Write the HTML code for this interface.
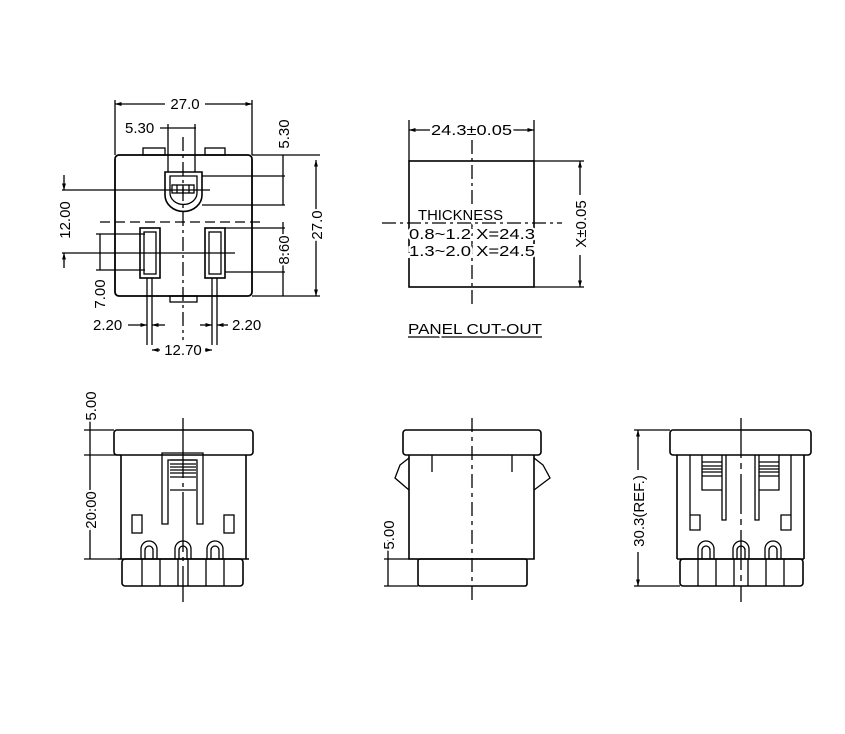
<!DOCTYPE html>
<html><head><meta charset="utf-8"><style>
html,body{margin:0;padding:0;background:#fff;}
svg{display:block;}
text{font-family:"Liberation Sans",sans-serif;font-size:15px;fill:#000;stroke:#fff;stroke-width:4px;paint-order:stroke;}
</style></head><body>
<svg width="845" height="734" viewBox="0 0 845 734" xmlns="http://www.w3.org/2000/svg">
<defs>
<marker id="a" viewBox="0 0 10 10" refX="10" refY="5" markerWidth="7" markerHeight="5" orient="auto-start-reverse"><path d="M0,2 L10,5 L0,8 z" fill="#000"/></marker>
</defs>
<g stroke="#000" fill="none" stroke-width="1.3">
<!-- TOP-LEFT VIEW -->
<rect x="115" y="155" width="137" height="141" rx="4" stroke-width="1.8"/>
<rect x="143" y="148" width="22" height="7"/><rect x="205" y="148" width="20" height="7"/>
<rect x="170" y="296" width="27" height="6"/>
<line x1="183" y1="137" x2="183" y2="340" stroke-dasharray="14,4,3,4"/>
<line x1="100" y1="222" x2="265" y2="222" stroke-dasharray="10,5"/>
<path d="M165,172 L165,195 A18,16 0 0 0 202,195 L202,172 Z" stroke-width="1.6"/>
<path d="M170,176 L170,193 A13,11 0 0 0 197,193 L197,176 Z"/>
<rect x="172" y="185" width="22" height="8"/><line x1="177" y1="185" x2="177" y2="193"/><line x1="183" y1="185" x2="183" y2="193"/><line x1="189" y1="185" x2="189" y2="193"/>
<rect x="140" y="228" width="20" height="50" stroke-width="1.6"/><rect x="144" y="232" width="12" height="42"/>
<rect x="205" y="228" width="20" height="50" stroke-width="1.6"/><rect x="209" y="232" width="12" height="42"/>
<line x1="147" y1="278" x2="147" y2="345"/><line x1="152" y1="278" x2="152" y2="345"/>
<line x1="212" y1="278" x2="212" y2="345"/><line x1="217" y1="278" x2="217" y2="345"/>
<line x1="115" y1="100" x2="115" y2="155"/><line x1="252" y1="100" x2="252" y2="155"/>
<line x1="115" y1="104" x2="165" y2="104" marker-start="url(#a)"/><line x1="205" y1="104" x2="252" y2="104" marker-end="url(#a)"/>
<line x1="168" y1="124" x2="168" y2="172"/><line x1="195" y1="124" x2="195" y2="172"/>
<line x1="160" y1="128" x2="196" y2="128"/>
<line x1="252" y1="155" x2="320" y2="155"/><line x1="252" y1="296" x2="320" y2="296"/>
<line x1="316" y1="160" x2="316" y2="210" marker-start="url(#a)"/><line x1="316" y1="240" x2="316" y2="296" marker-end="url(#a)"/>
<line x1="202" y1="176" x2="285" y2="176"/><line x1="202" y1="205" x2="285" y2="205"/>
<line x1="283" y1="176" x2="283" y2="205"/><line x1="283" y1="155" x2="283" y2="176"/>
<line x1="225" y1="228" x2="285" y2="228"/><line x1="225" y1="272" x2="285" y2="272"/>
<line x1="283" y1="222" x2="283" y2="296"/>
<line x1="62" y1="190" x2="210" y2="190"/><line x1="62" y1="253" x2="235" y2="253"/>
<line x1="64" y1="175" x2="64" y2="190" marker-end="url(#a)"/><line x1="64" y1="253" x2="64" y2="268" marker-start="url(#a)"/>
<line x1="96" y1="234" x2="145" y2="234"/><line x1="96" y1="270" x2="145" y2="270"/>
<line x1="100" y1="234" x2="100" y2="270"/>
<line x1="128" y1="325" x2="147" y2="325" marker-end="url(#a)"/><line x1="152" y1="325" x2="165" y2="325" marker-start="url(#a)"/>
<line x1="200" y1="325" x2="212" y2="325" marker-end="url(#a)"/><line x1="217" y1="325" x2="228" y2="325" marker-start="url(#a)"/>
<line x1="152" y1="350" x2="160" y2="350" marker-start="url(#a)"/><line x1="205" y1="350" x2="212" y2="350" marker-end="url(#a)"/>
<!-- PANEL CUT-OUT -->
<rect x="409" y="161" width="125" height="126" stroke-width="1.6"/>
<line x1="409" y1="120" x2="409" y2="161"/><line x1="534" y1="120" x2="534" y2="161"/>
<line x1="409" y1="130" x2="430" y2="130" marker-start="url(#a)"/><line x1="512" y1="130" x2="534" y2="130" marker-end="url(#a)"/>
<line x1="534" y1="161" x2="584" y2="161"/><line x1="534" y1="287" x2="584" y2="287"/>
<line x1="580" y1="161" x2="580" y2="195" marker-start="url(#a)"/><line x1="580" y1="255" x2="580" y2="287" marker-end="url(#a)"/>
<line x1="472" y1="140" x2="472" y2="308" stroke-dasharray="14,4,3,4"/>
<line x1="382" y1="223" x2="562" y2="223" stroke-dasharray="14,4,3,4"/>
<line x1="408" y1="337" x2="542" y2="337"/>
<!-- BOTTOM-LEFT FRONT -->
<rect x="114" y="430" width="139" height="25" rx="3" stroke-width="1.6"/>
<path d="M121,455 L121,559 M246,455 L246,559 M118,559 L249,559" stroke-width="1.6"/>
<rect x="122" y="559" width="121" height="27" rx="3" stroke-width="1.6"/>
<path d="M142,559 V586 M160,559 V586 M178,559 V586 M188,559 V586 M206,559 V586 M224,559 V586"/>
<path d="M162,524 V453 H203 V524 H197 V460 H168 V524 Z"/>
<path d="M170,460 H196 M170,464 H196 M170,467 H196 M170,470 H196 M170,473 H196 M170,477 H196 M170,490 H196"/>
<rect x="132" y="515" width="10" height="18"/><rect x="224" y="515" width="10" height="18"/>
<path d="M141,559 V549 A8,8 0 0 1 157,549 V559 M145,559 V550 A4,4 0 0 1 153,550 V559"/>
<path d="M175,559 V549 A8,8 0 0 1 191,549 V559 M179,559 V550 A4,4 0 0 1 187,550 V559"/>
<path d="M207,559 V549 A8,8 0 0 1 223,549 V559 M211,559 V550 A4,4 0 0 1 219,550 V559"/>
<line x1="183" y1="418" x2="183" y2="602" stroke-dasharray="60,5,4,5"/>
<line x1="84" y1="430" x2="114" y2="430"/><line x1="84" y1="455" x2="121" y2="455"/><line x1="84" y1="559" x2="121" y2="559"/>
<line x1="90" y1="420" x2="90" y2="559"/>
<!-- MIDDLE SIDE -->
<rect x="403" y="430" width="138" height="25" rx="3" stroke-width="1.6"/>
<path d="M409,455 V559 H534 V455" stroke-width="1.6"/>
<rect x="418" y="559" width="109" height="27" rx="2" stroke-width="1.6"/>
<path d="M409,458 L400,465 L395,478 L409,490"/><path d="M534,458 L543,465 L550,478 L534,490"/>
<path d="M432,455 V472 M512,455 V472"/>
<line x1="472" y1="418" x2="472" y2="602" stroke-dasharray="14,5,4,5"/>
<line x1="384" y1="559" x2="418" y2="559"/><line x1="384" y1="586" x2="418" y2="586"/>
<line x1="388" y1="540" x2="388" y2="586"/>
<!-- RIGHT VIEW -->
<rect x="670" y="430" width="141" height="25" rx="3" stroke-width="1.6"/>
<path d="M677,455 V559 M804,455 V559 M677,559 H804" stroke-width="1.6"/>
<rect x="680" y="559" width="123" height="27" rx="3" stroke-width="1.6"/>
<path d="M698,559 V586 M716,559 V586 M734,559 V586 M748,559 V586 M766,559 V586 M784,559 V586"/>
<path d="M690,455 V530 H700 V515 H690 M702,455 V490 H722 V455 M722,455 V520 H726 V455"/>
<path d="M702,462 H722 M702,466 H722 M702,469 H722 M702,472 H722 M702,476 H722"/>
<path d="M791,455 V530 H781 V515 H791 M779,455 V490 H759 V455 M759,455 V520 H755 V455"/>
<path d="M759,462 H779 M759,466 H779 M759,469 H779 M759,472 H779 M759,476 H779"/>
<path d="M698,559 V549 A8,8 0 0 1 714,549 V559 M702,559 V550 A4,4 0 0 1 710,550 V559"/>
<path d="M733,559 V549 A8,8 0 0 1 749,549 V559 M737,559 V550 A4,4 0 0 1 745,550 V559"/>
<path d="M765,559 V549 A8,8 0 0 1 781,549 V559 M769,559 V550 A4,4 0 0 1 777,550 V559"/>
<line x1="741" y1="418" x2="741" y2="602" stroke-dasharray="40,5,6,5"/>
<line x1="634" y1="430" x2="670" y2="430"/><line x1="634" y1="586" x2="680" y2="586"/>
<line x1="638" y1="430" x2="638" y2="470" marker-start="url(#a)"/><line x1="638" y1="552" x2="638" y2="586" marker-end="url(#a)"/>
</g>
<!-- text -->
<g>
<text x="185" y="109" text-anchor="middle">27.0</text>
<text x="125" y="133">5.30</text>
<text transform="translate(289,134) rotate(-90)" text-anchor="middle">5.30</text>
<text transform="translate(322,225) rotate(-90)" text-anchor="middle">27.0</text>
<text transform="translate(289,250) rotate(-90)" text-anchor="middle">8.60</text>
<text transform="translate(70,220) rotate(-90)" text-anchor="middle">12.00</text>
<text transform="translate(105,294) rotate(-90)" text-anchor="middle">7.00</text>
<text x="93" y="330">2.20</text>
<text x="232" y="330">2.20</text>
<text x="183" y="355" text-anchor="middle">12.70</text>
<text x="431" y="135" textLength="81" lengthAdjust="spacingAndGlyphs">24.3±0.05</text>
<text transform="translate(586,224) rotate(-90)" text-anchor="middle">X±0.05</text>
<text x="418" y="220" textLength="85" lengthAdjust="spacingAndGlyphs">THICKNESS</text>
<text x="409" y="239" textLength="126" lengthAdjust="spacingAndGlyphs">0.8~1.2  X=24.3</text>
<text x="409" y="256" textLength="126" lengthAdjust="spacingAndGlyphs">1.3~2.0  X=24.5</text>
<text x="408" y="334" textLength="134" lengthAdjust="spacingAndGlyphs">PANEL CUT-OUT</text>
<text transform="translate(96,406) rotate(-90)" text-anchor="middle">5.00</text>
<text transform="translate(96,510) rotate(-90)" text-anchor="middle">20.00</text>
<text transform="translate(394,535) rotate(-90)" text-anchor="middle">5.00</text>
<text transform="translate(644,511) rotate(-90)" text-anchor="middle">30.3(REF.)</text>
</g>
</svg>
</body></html>
